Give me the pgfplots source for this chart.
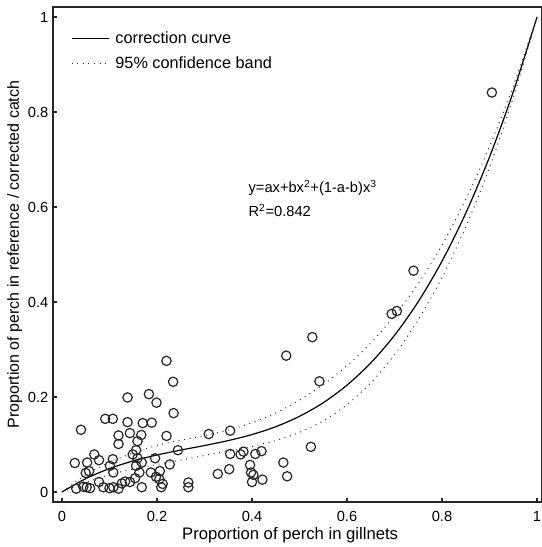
\documentclass[border=0pt]{standalone}
\usepackage{fontspec}
\setmainfont{Liberation Sans}
\usepackage{pgfplots}
\pgfplotsset{compat=1.18}

% fitted curve y = ax + bx^2 + (1-a-b)x^3 with its 95% band
\pgfplotstableread{
x      y       up      lo
0.00   0.0000  0.0000  0.0000
0.05   0.0280  0.0360  0.0200
0.10   0.0493  0.0623  0.0363
0.15   0.0655  0.0825  0.0485
0.20   0.0779  0.0979  0.0579
0.25   0.0882  0.1092  0.0672
0.30   0.0978  0.1188  0.0768
0.35   0.1082  0.1302  0.0862
0.40   0.1209  0.1459  0.0959
0.45   0.1374  0.1664  0.1084
0.50   0.1593  0.1933  0.1253
0.55   0.1879  0.2259  0.1499
0.60   0.2249  0.2659  0.1839
0.65   0.2717  0.3137  0.2297
0.70   0.3298  0.3708  0.2888
0.75   0.4007  0.4387  0.3627
0.80   0.4859  0.5199  0.4519
0.85   0.5870  0.6160  0.5580
0.90   0.7053  0.7273  0.6833
0.95   0.8425  0.8545  0.8305
1.00   1.0000  1.0000  1.0000
}\fit

\begin{document}
\begin{tikzpicture}
\begin{axis}[
  scale only axis, width=366.75pt, height=371.25pt,
  xmin=-0.0189, xmax=1.0105, ymin=-0.0211, ymax=1.0211,
  xtick={0,0.2,0.4,0.6,0.8,1}, ytick={0,0.2,0.4,0.6,0.8,1},
  xtick pos=lower, ytick pos=left, tick align=inside,
  major tick length=3pt,
  axis line style={line width=1pt, black!85},
  every tick/.style={line width=1pt, black!85},
  /pgf/number format/assume math mode=true,
  tick label style={font=\fontsize{11}{13}\selectfont},
  xticklabel style={yshift=-3.5pt},
  xlabel={Proportion of perch in gillnets},
  ylabel={Proportion of perch in reference / corrected catch},
  every axis x label/.style={at={(axis description cs:0.485,-0.067)}, anchor=center,
    font=\fontsize{12.5}{14}\selectfont},
  every axis y label/.style={at={(axis description cs:-0.078,0.5)}, rotate=90, anchor=center,
    font=\fontsize{12}{14}\selectfont},
  legend style={draw=none, fill=none, at={(axis description cs:0.028,0.961)}, anchor=north west,
    font=\fontsize{12.2}{14}\selectfont, row sep=4pt, column sep=2pt},
  legend cell align=left,
  legend image code/.code={\draw[#1] (0cm,0cm) -- (1cm,0cm);},
]
\addplot[black, line width=0.9pt, smooth] table[x=x, y=y] {\fit};
\addlegendentry{correction curve}
\addplot[black!80, line width=0.8pt, dash pattern=on 0.7pt off 3.5pt, smooth] table[x=x, y=up] {\fit};
\addlegendentry{95\% confidence band}
\addplot[black!80, line width=0.8pt, dash pattern=on 0.7pt off 3.5pt, smooth, forget plot] table[x=x, y=lo] {\fit};

\addplot[only marks, mark=o, mark size=3.5pt, mark options={line width=0.9pt, black!85}, forget plot] coordinates {
(0.027,0.061) (0.030,0.007) (0.040,0.131) (0.045,0.011) (0.050,0.040)
(0.053,0.062) (0.052,0.010) (0.057,0.044) (0.059,0.008) (0.068,0.079)
(0.078,0.067) (0.078,0.021) (0.087,0.010) (0.091,0.154) (0.100,0.008)
(0.101,0.055) (0.107,0.154) (0.107,0.069) (0.108,0.041) (0.108,0.010)
(0.119,0.007) (0.119,0.119) (0.119,0.101) (0.126,0.018) (0.133,0.022)
(0.138,0.199) (0.138,0.147) (0.143,0.124) (0.143,0.021) (0.149,0.079)
(0.154,0.029) (0.156,0.088) (0.159,0.071) (0.156,0.055) (0.159,0.107)
(0.163,0.041) (0.167,0.120) (0.168,0.062) (0.168,0.010) (0.170,0.145)
(0.183,0.206) (0.187,0.041) (0.189,0.146) (0.196,0.071) (0.198,0.032)
(0.199,0.188) (0.205,0.027) (0.206,0.044) (0.209,0.010) (0.212,0.017)
(0.220,0.276) (0.220,0.118) (0.227,0.058) (0.234,0.232) (0.235,0.166)
(0.244,0.088) (0.266,0.020) (0.266,0.010) (0.309,0.122) (0.328,0.038)
(0.352,0.048) (0.354,0.129) (0.354,0.080) (0.376,0.079) (0.382,0.085)
(0.396,0.057) (0.398,0.041) (0.403,0.036) (0.400,0.021) (0.407,0.080)
(0.420,0.086) (0.422,0.026) (0.466,0.062) (0.472,0.287) (0.474,0.033)
(0.524,0.095) (0.527,0.326) (0.542,0.233) (0.694,0.375) (0.705,0.381)
(0.740,0.466) (0.905,0.841)
};
\node[anchor=west, font=\fontsize{11}{13}\selectfont] at (axis cs:0.383,0.640)
  {y=ax+bx\textsuperscript{2}+(1-a-b)x\textsuperscript{3}};
\node[anchor=west, font=\fontsize{11}{13}\selectfont] at (axis cs:0.383,0.592)
  {R\textsuperscript{2}=0.842};
\end{axis}
\pgfresetboundingbox
\path ([xshift=-39.75pt, yshift=-33.75pt]current axis.south west)
  rectangle ([yshift=5.25pt]current axis.north east);
\end{tikzpicture}
\end{document}
